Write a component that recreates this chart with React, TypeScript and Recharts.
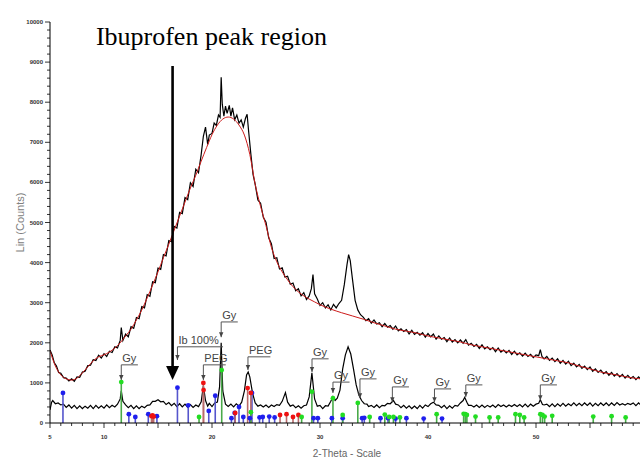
import React from 'react';
import { ComposedChart, Line, Scatter, XAxis, YAxis, ErrorBar, ReferenceLine } from 'recharts';

// 2-Theta (deg), Lin (Counts)
const upperTrace: number[][] = [
  [5,1820],[5.2,1700],[5.4,1500],[5.6,1420],[5.8,1260],[6,1240],[6.25,1130],[6.5,1120],[6.75,1050],[7,1100],[7.25,1040],[7.5,1150],[7.75,1140],[8,1270],[8.25,1290],[8.5,1430],[8.75,1440],[9,1580],[9.25,1560],[9.5,1690],[9.75,1620],[10,1730],[10.25,1660],[10.5,1790],[10.75,1760],[11,1900],[11.25,1870],[11.5,2060],[11.6,2380],[11.75,2060],[12,2220],[12.25,2150],[12.5,2400],[12.75,2360],[13,2630],[13.25,2600],[13.5,2900],[13.75,2870],[14,3200],[14.25,3160],[14.5,3520],[14.75,3500],[15,3860],[15.25,3830],[15.5,4200],[15.75,4170],[16,4550],[16.25,4520],[16.5,4900],[16.75,4860],[17,5250],[17.25,5220],[17.5,5620],[17.75,5570],[18,5990],[18.25,5900],[18.5,6330],[18.75,6240],[19,6700],[19.2,7150],[19.4,7380],[19.6,6950],[19.75,7180],[20,7220],[20.2,7480],[20.4,7420],[20.6,7680],[20.75,7620],[20.85,8620],[20.95,7950],[21.1,7650],[21.25,7900],[21.4,7720],[21.6,7920],[21.75,7650],[21.9,7860],[22.1,7560],[22.3,7680],[22.5,7480],[22.7,7560],[22.9,7380],[23.1,7600],[23.25,7700],[23.4,7250],[23.6,6700],[23.8,6200],[24,5950],[24.25,5560],[24.5,5480],[24.75,5130],[25,5010],[25.25,4620],[25.5,4470],[25.75,4100],[26,4120],[26.25,3840],[26.5,3870],[26.75,3640],[27,3660],[27.25,3460],[27.5,3490],[27.75,3300],[28,3350],[28.25,3170],[28.5,3250],[28.75,3080],[29,3170],[29.2,3350],[29.35,3700],[29.5,3220],[29.75,3090],[30,2930],[30.25,3000],[30.5,2870],[30.75,2950],[31,2820],[31.25,2960],[31.5,2870],[31.75,2980],[32,3060],[32.25,3450],[32.5,3950],[32.65,4200],[32.8,4050],[33,3600],[33.25,3060],[33.5,2820],[33.75,2700],
  [34,2640],[34.25,2550],[34.5,2600],[34.75,2490],[35,2570],[35.25,2470],[35.5,2500],[35.75,2400],[36,2480],[36.25,2390],[36.5,2430],[36.75,2340],[37,2420],[37.25,2300],[37.5,2350],[37.75,2280],[38,2330],[38.25,2220],[38.5,2310],[38.75,2210],[39,2260],[39.25,2190],[39.5,2250],[39.75,2140],[40,2230],[40.25,2150],[40.5,2220],[40.75,2090],[41,2170],[41.25,2090],[41.5,2130],[41.75,2030],[42,2120],[42.25,2020],[42.5,2080],[42.75,2000],[43,2070],[43.25,1990],[43.5,2080],[43.75,1940],[44,1990],[44.25,1910],[44.5,1960],[44.75,1860],[45,1950],[45.25,1850],[45.5,1900],[45.75,1830],[46,1880],[46.25,1780],[46.5,1870],[46.75,1770],[47,1820],[47.25,1750],[47.5,1810],[47.75,1710],[48,1790],[48.25,1700],[48.5,1750],[48.75,1670],[49,1740],[49.25,1660],[49.5,1710],[49.75,1630],[50,1700],[50.25,1680],[50.4,1830],[50.55,1660],[50.75,1600],[51,1660],[51.25,1560],[51.5,1620],[51.75,1530],[52,1600],[52.25,1490],[52.5,1560],[52.75,1470],[53,1540],[53.25,1430],[53.5,1490],[53.75,1400],[54,1460],[54.25,1360],[54.5,1420],[54.75,1330],[55,1400],[55.25,1290],[55.5,1350],[55.75,1260],[56,1320],[56.25,1230],[56.5,1280],[56.75,1190],[57,1260],[57.25,1170],[57.5,1230],[57.75,1150],[58,1210],[58.25,1120],[58.5,1190],[58.75,1110],[59,1160],[59.25,1080],[59.5,1150],[59.75,1070],[60,1120]
];

const fitCurve: number[][] = [
  [5,1800],[5.5,1420],[6,1200],[6.5,1100],[7,1070],[7.5,1120],[8,1250],[8.5,1400],[9,1550],[9.5,1650],[10,1700],[10.5,1770],[11,1870],[11.5,2000],[12,2170],[12.5,2340],[13,2570],[13.5,2820],[14,3120],[14.5,3440],[15,3770],[15.5,4120],[16,4460],[16.5,4810],[17,5160],[17.5,5510],[18,5860],[18.5,6180],[19,6530],[19.5,6870],[20,7190],[20.5,7430],[21,7580],[21.5,7630],[22,7580],[22.5,7430],[23,7180],[23.5,6700],[24,5950],[24.5,5400],[25,4920],[25.5,4380],[26,4020],[26.5,3770],[27,3570],[27.5,3400],[28,3270],[28.5,3170],[29,3090],[29.5,3020],[30,2950],[31,2840],[32,2750],[33,2670],[34,2590],[35,2500],[36,2420],[37,2340],[38,2290],[39,2240],[40,2170],[41,2120],[42,2070],[43,2020],[44,1950],[45,1900],[46,1850],[47,1800],[48,1750],[49,1700],[50,1650],[51,1600],[52,1550],[53,1500],[54,1420],[55,1350],[56,1270],[57,1220],[58,1170],[59,1120],[60,1100]
];

const lowerTrace: number[][] = [
  [5,330],[5.15,520],[5.25,560],[5.5,480],[5.75,500],[6,450],[6.25,470],[6.5,390],[6.75,450],[7,370],[7.25,440],[7.5,360],[7.75,430],[8,360],[8.25,420],[8.5,370],[8.75,440],[9,360],[9.25,440],[9.5,370],[9.75,430],[10,370],[10.25,450],[10.5,380],[10.75,440],[11,400],[11.25,470],[11.5,600],[11.6,800],[11.75,540],[12,450],[12.25,380],[12.5,440],[12.75,360],[13,430],[13.25,360],[13.5,420],[13.75,380],[14,440],[14.25,450],[14.5,540],[14.75,540],[15,580],[15.25,530],[15.5,540],[15.75,460],[16,510],[16.25,430],[16.5,490],[16.75,410],[17,480],[17.25,400],[17.5,470],[17.75,390],[18,460],[18.25,390],[18.5,450],[18.75,410],[19,530],[19.2,930],[19.4,560],[19.6,420],[19.75,490],[20,410],[20.25,500],[20.5,520],[20.7,900],[20.85,2000],[21,800],[21.25,470],[21.5,410],[21.75,470],[22,400],[22.25,480],[22.5,420],[22.75,520],[23,800],[23.2,1200],[23.35,1270],[23.5,1150],[23.75,750],[24,500],[24.25,420],[24.5,450],[24.75,400],[25,450],[25.25,390],[25.5,450],[25.75,410],[26,460],[26.25,440],[26.5,540],[26.8,760],[27,520],[27.25,420],[27.5,450],[27.75,380],[28,430],[28.25,370],[28.5,430],[28.75,450],[29,650],[29.25,1250],[29.5,600],[29.75,420],[30,440],[30.25,360],[30.5,430],[30.75,420],[31,540],[31.2,660],[31.4,560],[31.6,620],[31.85,820],[32.1,1350],[32.35,1700],[32.6,1900],[32.85,1720],[33.1,1350],[33.35,950],[33.6,700],[33.85,560],[34.1,480],[34.35,470],[34.5,410],[34.75,440],[35,390],[35.25,450],[35.5,380],[35.75,440],[36,430],[36.25,490],[36.5,480],[36.8,560],[37,470],[37.25,450],[37.5,380],[37.75,440],[38,370],[38.25,430],[38.5,360],[38.75,420],[39,360],[39.25,440],[39.5,370],[39.75,450],[40,410],[40.25,480],[40.5,520],[40.75,450],[41,440],[41.25,380],[41.5,440],[41.75,360],[42,430],[42.25,370],[42.5,440],[42.75,420],[43,500],[43.25,560],[43.4,640],[43.6,520],[43.75,440],[44,440],[44.25,400],[44.5,450],[44.75,390],[45,450],[45.25,390],[45.5,440],[45.75,400],[46,450],[46.25,390],[46.5,460],[46.75,410],[47,450],[47.25,400],[47.5,450],[47.75,410],[48,460],[48.25,410],[48.5,460],[48.75,400],[49,470],[49.25,400],[49.5,470],[49.75,420],[50,470],[50.25,490],[50.4,580],[50.6,460],[50.75,450],[51,470],[51.25,410],[51.5,480],[51.75,410],[52,480],[52.25,420],[52.5,490],[52.75,420],[53,480],[53.25,430],[53.5,500],[53.75,430],[54,490],[54.25,430],[54.5,500],[54.75,440],[55,500],[55.25,420],[55.5,490],[55.75,430],[56,500],[56.25,440],[56.5,500],[56.75,430],[57,500],[57.25,440],[57.5,510],[57.75,450],[58,480],[58.25,450],[58.5,490],[58.75,460],[59,500],[59.25,430],[59.5,500],[59.75,440],[60,480]
];

// reference sticks: Ibuprofen (blue), PEG (red), Gypsum (green)
const ibuprofenSticks: number[][] = [
  [6.2,750],[12.3,220],[12.9,150],[14.1,220],[14.9,170],[16.8,880],[17.8,440],[19.7,300],[20.3,680],[21.8,120],[22.1,250],[22.5,400],[22.9,150],[23.5,120],[23.7,750],[24.4,140],[24.7,150],[25.3,160],[25.8,140],[29.4,120],[29.8,120],[31.1,120],[32.1,120],[33.9,120],[34.1,130],[35.6,120],[36.3,120],[37.0,110],[38.0,120],[39.6,110],[41.3,110]
];
const pegSticks: number[][] = [
  [14.4,170],[14.5,190],[14.6,160],[19.2,1000],[19.22,820],[22.15,250],[23.3,870],[23.6,750],[26.3,200],[26.9,220],[27.5,150],[28.0,200]
];
const gypsumSticks: number[][] = [
  [11.6,1020],[18.8,150],[20.9,1320],[23.6,270],[28.3,150],[29.25,780],[31.2,620],[32.1,200],[33.5,500],[34.6,150],[36.0,210],[36.4,150],[36.8,150],[37.4,140],[40.8,220],[43.3,230],[43.45,220],[43.6,200],[44.4,160],[45.7,140],[46.5,140],[48.1,220],[48.5,200],[48.9,140],[50.4,220],[50.6,200],[50.8,160],[51.5,180],[55.3,160],[57.0,170],[58.3,140]
];

// phase labels: x, label-line level, arrow tip level
const annoX: number[] = [11.6, 16.8, 19.2, 20.85, 23.33, 29.26, 31.2, 33.7, 36.7, 40.6, 43.5, 50.4];
const annoLine: number[] = [1450, 1900, 1450, 2520, 1650, 1600, 1020, 1100, 900, 850, 950, 950];
const annoTip: number[] = [1070, 1570, 1070, 2140, 1320, 1270, 750, 620, 520, 520, 650, 570];
const annoText: string[] = ['Gy', 'Ib 100%', 'PEG', 'Gy', 'PEG', 'Gy', 'Gy', 'Gy', 'Gy', 'Gy', 'Gy', 'Gy'];

const titleText = 'Ibuprofen peak region';
const titlePos = { x: 9.25, y: 9430 };
const bigArrow = { x: 16.35, top: 8900, tip: 1070 };

const xTicks: number[] = [5,6,7,8,9,10,11,12,13,14,15,16,17,18,19,20,21,22,23,24,25,26,27,28,29,30,31,32,33,34,35,36,37,38,39,40,41,42,43,44,45,46,47,48,49,50,51,52,53,54,55,56,57,58,59,60];
const xLabelTicks: number[] = [5, 10, 20, 30, 40, 50];
const yTicks: number[] = [0,200,400,600,800,1000,1200,1400,1600,1800,2000,2200,2400,2600,2800,3000,3200,3400,3600,3800,4000,4200,4400,4600,4800,5000,5200,5400,5600,5800,6000,6200,6400,6600,6800,7000,7200,7400,7600,7800,8000,8200,8400,8600,8800,9000,9200,9400,9600,9800,10000];
const yLabelTicks: number[] = [0,1000,2000,3000,4000,5000,6000,7000,8000,9000,10000];

const pts = (a: number[][]) => a.map(([x, y]) => ({ x, y }));
const sticks = (a: number[][]) => a.map(([x, y]) => ({ x, y, err: [y, 0] }));

const upperData = pts(upperTrace);
const fitData = pts(fitCurve);
const lowerData = pts(lowerTrace);
const ibData = sticks(ibuprofenSticks);
const pegData = sticks(pegSticks);
const gyData = sticks(gypsumSticks);
const annoData = annoX.map((x, i) => ({ x, y: annoLine[i], err: [annoLine[i] - annoTip[i], 0], text: annoText[i] }));
const annoTipData = annoX.map((x, i) => ({ x, y: annoTip[i] }));
const titleData = [{ x: titlePos.x, y: titlePos.y, text: titleText }];
const arrowTipData = [{ x: bigArrow.x, y: bigArrow.tip }];

const SANS = 'Liberation Sans, Arial, sans-serif';

const XTick = (props: any) => {
  const { x, y, payload } = props;
  const v = payload.value;
  const major = v % 5 === 0;
  return (
    <g>
      <line x1={x} x2={x} y1={y} y2={y + (major ? 5 : 3)} stroke="#000" strokeWidth={0.8} />
      {xLabelTicks.includes(v) && (
        <text x={x} y={y + 16} textAnchor="middle" fontSize={6} fontWeight="bold" fontFamily={SANS} fill="#333">{v}</text>
      )}
    </g>
  );
};

const YTick = (props: any) => {
  const { x, y, payload } = props;
  const v = payload.value;
  const major = yLabelTicks.includes(v);
  return (
    <g>
      <line x1={x - (major ? 5 : 3)} x2={x} y1={y} y2={y} stroke="#000" strokeWidth={0.8} />
      {major && (
        <text x={x - 7} y={y + 2} textAnchor="end" fontSize={6} fontWeight="bold" fontFamily={SANS} fill="#333">{v}</text>
      )}
    </g>
  );
};

const dot = (fill: string) => (p: any) => <circle cx={p.cx} cy={p.cy} r={2.4} fill={fill} />;

const AnnoLabel = (p: any) => {
  const { cx, cy, payload } = p;
  const w = payload.text.length * 5.8 + 5;
  return (
    <g>
      <line x1={cx} x2={cx + w} y1={cy} y2={cy} stroke="#555" strokeWidth={1} />
      <text x={cx + 1} y={cy - 3} fontSize={11} fontFamily={SANS} fill="#444">{payload.text}</text>
    </g>
  );
};

const AnnoTip = (p: any) => (
  <polygon points={`${p.cx - 2.2},${p.cy - 5} ${p.cx + 2.2},${p.cy - 5} ${p.cx},${p.cy}`} fill="#444" />
);

const BigHead = (p: any) => (
  <polygon points={`${p.cx - 6.5},${p.cy - 14} ${p.cx + 6.5},${p.cy - 14} ${p.cx},${p.cy}`} fill="#000" />
);

const Title = (p: any) => (
  <text x={p.cx} y={p.cy} fontSize={26} fontFamily="Liberation Serif, Times New Roman, serif" fill="#000">{p.payload.text}</text>
);

const YLabel = (props: any) => {
  const vb = props.viewBox;
  const cx = vb.x + 24;
  const cy = vb.y + vb.height / 2;
  return (
    <text x={cx} y={cy} transform={`rotate(-90, ${cx}, ${cy})`} textAnchor="middle" fontSize={11} fontFamily={SANS} fill="#808080">Lin (Counts)</text>
  );
};

export default function App() {
  return (
    <div style={{ position: 'absolute', left: 0, top: 0, width: 640, height: 463, overflow: 'hidden', background: '#fff' }}>
      <ComposedChart width={650} height={463} margin={{ top: 22, right: 6, bottom: 0, left: 0 }}>
        <XAxis
          type="number"
          dataKey="x"
          domain={[5, 60]}
          ticks={xTicks}
          interval={0}
          tick={<XTick />}
          tickLine={false}
          tickSize={0}
          tickMargin={0}
          height={40}
          allowDataOverflow
          axisLine={{ stroke: '#000', strokeWidth: 1 }}
          label={{ value: '2-Theta - Scale', position: 'insideBottom', offset: 6, style: { fontSize: 10, fontFamily: SANS, fill: '#666' } }}
        />
        <YAxis
          type="number"
          dataKey="y"
          domain={[0, 10000]}
          ticks={yTicks}
          interval={0}
          tick={<YTick />}
          tickLine={false}
          tickSize={0}
          tickMargin={0}
          width={50}
          allowDataOverflow
          axisLine={{ stroke: '#000', strokeWidth: 1 }}
          label={{ content: <YLabel /> }}
        />
        <Line data={upperData} dataKey="y" type="linear" stroke="#000" strokeWidth={1.2} dot={false} isAnimationActive={false} />
        <Line data={fitData} dataKey="y" type="monotone" stroke="#cc1a1a" strokeWidth={1} dot={false} isAnimationActive={false} />
        <Line data={lowerData} dataKey="y" type="linear" stroke="#000" strokeWidth={1.2} dot={false} isAnimationActive={false} />
        <Scatter data={ibData} shape={dot('#1f1fee')} isAnimationActive={false}>
          <ErrorBar dataKey="err" direction="y" width={0} stroke="#5555cc" strokeWidth={1.6} />
        </Scatter>
        <Scatter data={pegData} shape={dot('#ee1111')} isAnimationActive={false}>
          <ErrorBar dataKey="err" direction="y" width={0} stroke="#b86a6a" strokeWidth={1.6} />
        </Scatter>
        <Scatter data={gyData} shape={dot('#22dd22')} isAnimationActive={false}>
          <ErrorBar dataKey="err" direction="y" width={0} stroke="#4aaa4a" strokeWidth={1.6} />
        </Scatter>
        <Scatter data={annoData} shape={AnnoLabel} isAnimationActive={false}>
          <ErrorBar dataKey="err" direction="y" width={0} stroke="#555" strokeWidth={1} />
        </Scatter>
        <Scatter data={annoTipData} shape={AnnoTip} isAnimationActive={false} />
        <ReferenceLine
          segment={[{ x: bigArrow.x, y: bigArrow.top }, { x: bigArrow.x, y: bigArrow.tip + 300 }]}
          stroke="#000"
          strokeWidth={2.6}
          ifOverflow="visible"
        />
        <Scatter data={arrowTipData} shape={BigHead} isAnimationActive={false} />
        <Scatter data={titleData} shape={Title} isAnimationActive={false} />
      </ComposedChart>
    </div>
  );
}
